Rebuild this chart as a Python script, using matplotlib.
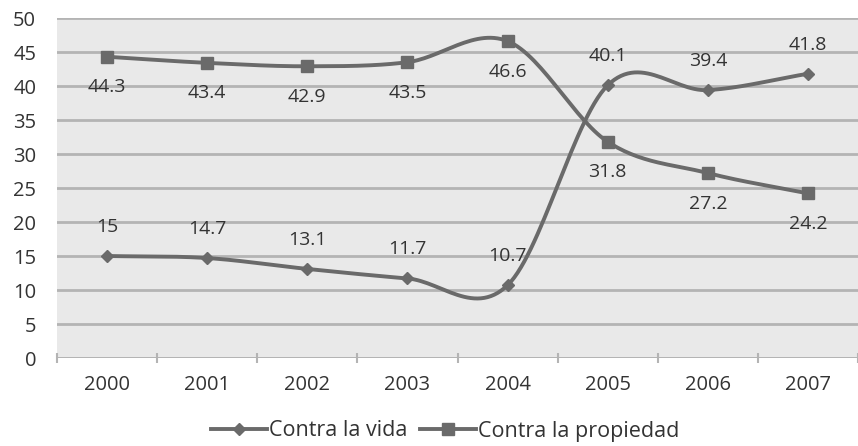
import matplotlib
matplotlib.use("Agg")
import matplotlib.pyplot as plt
import numpy as np

plt.rcParams['font.family'] = ['Open Sans', 'DejaVu Sans']

# datos
anios = ['2000', '2001', '2002', '2003', '2004', '2005', '2006', '2007']
contra_vida = [15, 14.7, 13.1, 11.7, 10.7, 40.1, 39.4, 41.8]
contra_propiedad = [44.3, 43.4, 42.9, 43.5, 46.6, 31.8, 27.2, 24.2]
# etiquetas arriba (+1) o abajo (-1)
pos_vida = [1, 1, 1, 1, 1, 1, 1, 1]
pos_prop = [-1, -1, -1, -1, -1, -1, -1, -1]

col = '#6a6a6a'
txt = '#333333'


def suavizar(y, n=30):
    # curva tipo Catmull-Rom como las lineas suavizadas de Excel
    y = np.asarray(y, dtype=float)
    x = np.arange(len(y), dtype=float)
    px = np.concatenate([[2 * x[0] - x[1]], x, [2 * x[-1] - x[-2]]])
    py = np.concatenate([[2 * y[0] - y[1]], y, [2 * y[-1] - y[-2]]])
    xs, ys = [], []
    for i in range(1, len(px) - 2):
        t = np.linspace(0, 1, n, endpoint=False)
        for arr, out in ((px, xs), (py, ys)):
            p0, p1, p2, p3 = arr[i - 1], arr[i], arr[i + 1], arr[i + 2]
            out.extend(0.5 * ((2 * p1) + (-p0 + p2) * t
                              + (2 * p0 - 5 * p1 + 4 * p2 - p3) * t ** 2
                              + (-p0 + 3 * p1 - 3 * p2 + p3) * t ** 3))
    xs.append(x[-1])
    ys.append(y[-1])
    return np.array(xs), np.array(ys)


fig = plt.figure(figsize=(8.58, 4.46), dpi=100)
ax = fig.add_axes([57 / 858, 88 / 446, 1 - 57 / 858, (358 - 18) / 446])
ax.set_facecolor('#e9e9e9')

x = np.arange(len(anios))
for serie, mk, ms, nombre in ((contra_vida, 'D', 6, 'Contra la vida'),
                              (contra_propiedad, 's', 8.5, 'Contra la propiedad')):
    sx, sy = suavizar(serie)
    ax.plot(sx, sy, color=col, lw=2.8, zorder=3)
    ax.plot(x, serie, ls='none', marker=mk, ms=ms, color=col, zorder=4)
    ax.plot([], [], color=col, lw=2.8, marker=mk, ms=ms, label=nombre)

for xi, v, p in zip(x, contra_vida, pos_vida):
    ax.annotate(f'{v:g}', (xi, v), xytext=(0, 21 * p), textcoords='offset points',
                ha='center', va='center', fontsize=14, color=txt, zorder=5)
for xi, v, p in zip(x, contra_propiedad, pos_prop):
    ax.annotate(f'{v:g}', (xi, v), xytext=(0, 22 * p), textcoords='offset points',
                ha='center', va='center', fontsize=14, color=txt, zorder=5)

ax.set_ylim(0, 50)
ax.set_xlim(-0.5, (858 - 107) / 101)
ax.set_yticks(range(0, 51, 5))
ax.set_xticks(x)
ax.set_xticklabels(anios)
ax.set_xticks(np.arange(-0.5, 7.6, 1), minor=True)
ax.yaxis.grid(True, color='#b4b4b4', lw=2)
ax.set_axisbelow(True)
for s in ax.spines.values():
    s.set_visible(False)
ax.axhline(0, color='#b4b4b4', lw=2, zorder=1)
ax.tick_params(axis='y', length=0, labelsize=14.5, labelcolor=txt, pad=15)
ax.tick_params(axis='x', which='major', length=0, labelsize=14.5, labelcolor=txt, pad=12)
ax.tick_params(axis='x', which='minor', length=7, width=1.5, color='#b4b4b4', direction='inout')

fig.legend(loc='center', bbox_to_anchor=(445 / 858, 1 - 431 / 446), ncol=2, frameon=False,
           fontsize=15.5, labelcolor=txt, handlelength=2.6, handletextpad=0.1, columnspacing=0.6)

fig.savefig('out.png', dpi=100, facecolor='white')
